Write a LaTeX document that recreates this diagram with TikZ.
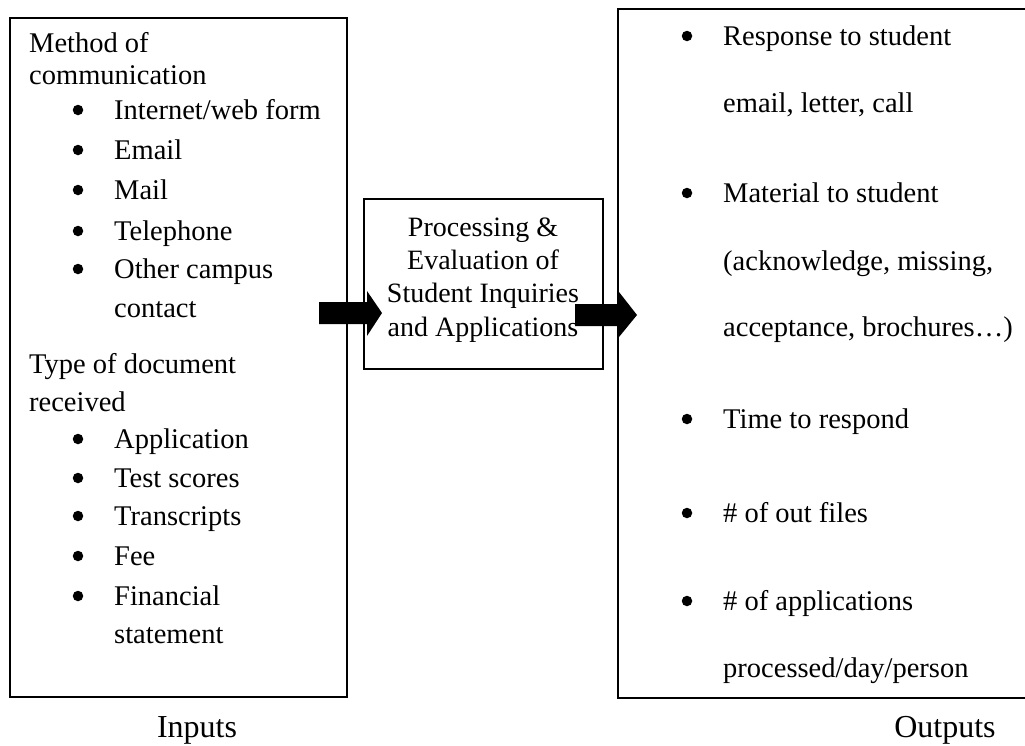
\documentclass[tikz,border=0pt]{standalone}
\usepackage{fontspec}
\setmainfont{Liberation Serif}
\begin{document}
\begin{tikzpicture}[x=1pt,y=-1pt,
  frame/.style={draw=black,line width=1.6pt},
  txt/.style={anchor=base west,inner sep=0pt,font=\fontsize{28.5}{28.5}\selectfont},
  ctxt/.style={anchor=base,inner sep=0pt,font=\fontsize{28}{28}\selectfont},
  caption/.style={anchor=base,inner sep=0pt,font=\fontsize{32}{32}\selectfont},
  dot/.style={circle,fill=black,inner sep=0pt,minimum size=10.5pt},
  fatarrow/.style={fill=black}]
\useasboundingbox (0,0) rectangle (1025,745);
\fill[white] (0,0) rectangle (1025,745);

% boxes
\node[frame,minimum width=337pt,minimum height=679pt,inner sep=0pt] (inbox) at (178.5,357.5) {};
\node[frame,minimum width=239pt,minimum height=170pt,inner sep=0pt] (proc) at (483.5,284) {};
\draw[frame] (1026,9) coordinate (outTR) -- (618,9) -- (618,698) -- (1026,698) coordinate (outBR);
\coordinate (outL) at (618,314);

% middle text
\node[ctxt] (p1) at (483,236) {Processing \&};
\node[ctxt] (p2) at (483,269) {Evaluation of};
\node[ctxt] (p3) at (483,302) {Student Inquiries};
\node[ctxt] (p4) at (483,336) {and Applications};

% left text
\node[txt] (h1) at (29,52) {Method of};
\node[txt] (h2) at (29,84) {communication};
\foreach \y/\t [count=\i] in {119/{Internet/web form},159/Email,199/Mail,240/Telephone,278/Other campus}{
  \node[dot] (lb\i) at (78,{\y-9}) {};
  \node[txt] (lt\i) at (114,\y) {\t};
}
\node[txt] (lt6) at (114,317) {contact};
\node[txt] (h3) at (29,373) {Type of document};
\node[txt] (h4) at (29,411) {received};
\foreach \y/\t [count=\i] in {448/Application,487/Test scores,525/Transcripts,565/Fee,605/Financial}{
  \node[dot] (db\i) at (78,{\y-9}) {};
  \node[txt] (dt\i) at (114,\y) {\t};
}
\node[txt] (dt6) at (114,643) {statement};

% right text
\foreach \y/\t [count=\i] in {45/Response to student,202/Material to student,428/Time to respond,522/\# of out files,610/\# of applications}{
  \node[dot] (rb\i) at (687,{\y-9}) {};
  \node[txt] (rt\i) at (723,\y) {\t};
}
\node[txt] (rc1) at (723,112) {email, letter, call};
\node[txt] (rc2) at (723,270) {(acknowledge, missing,};
\node[txt] (rc3) at (723,336) {acceptance, brochures\ldots)};
\node[txt] (rc4) at (723,677) {processed/day/person};

% arrows
\fill[fatarrow] (319,302) -- (367,302) -- (367,291) -- (382,313) -- (367,336) -- (367,324) -- (319,324) -- cycle;
\fill[fatarrow] (575,304) -- (619,304) -- (619,292) -- (637,315) -- (619,337) -- (619,326) -- (575,326) -- cycle;

% captions
\node[caption] (inlab) at (197,737) {Inputs};
\node[caption] (outlab) at (945,737) {Outputs};
\end{tikzpicture}
\end{document}
